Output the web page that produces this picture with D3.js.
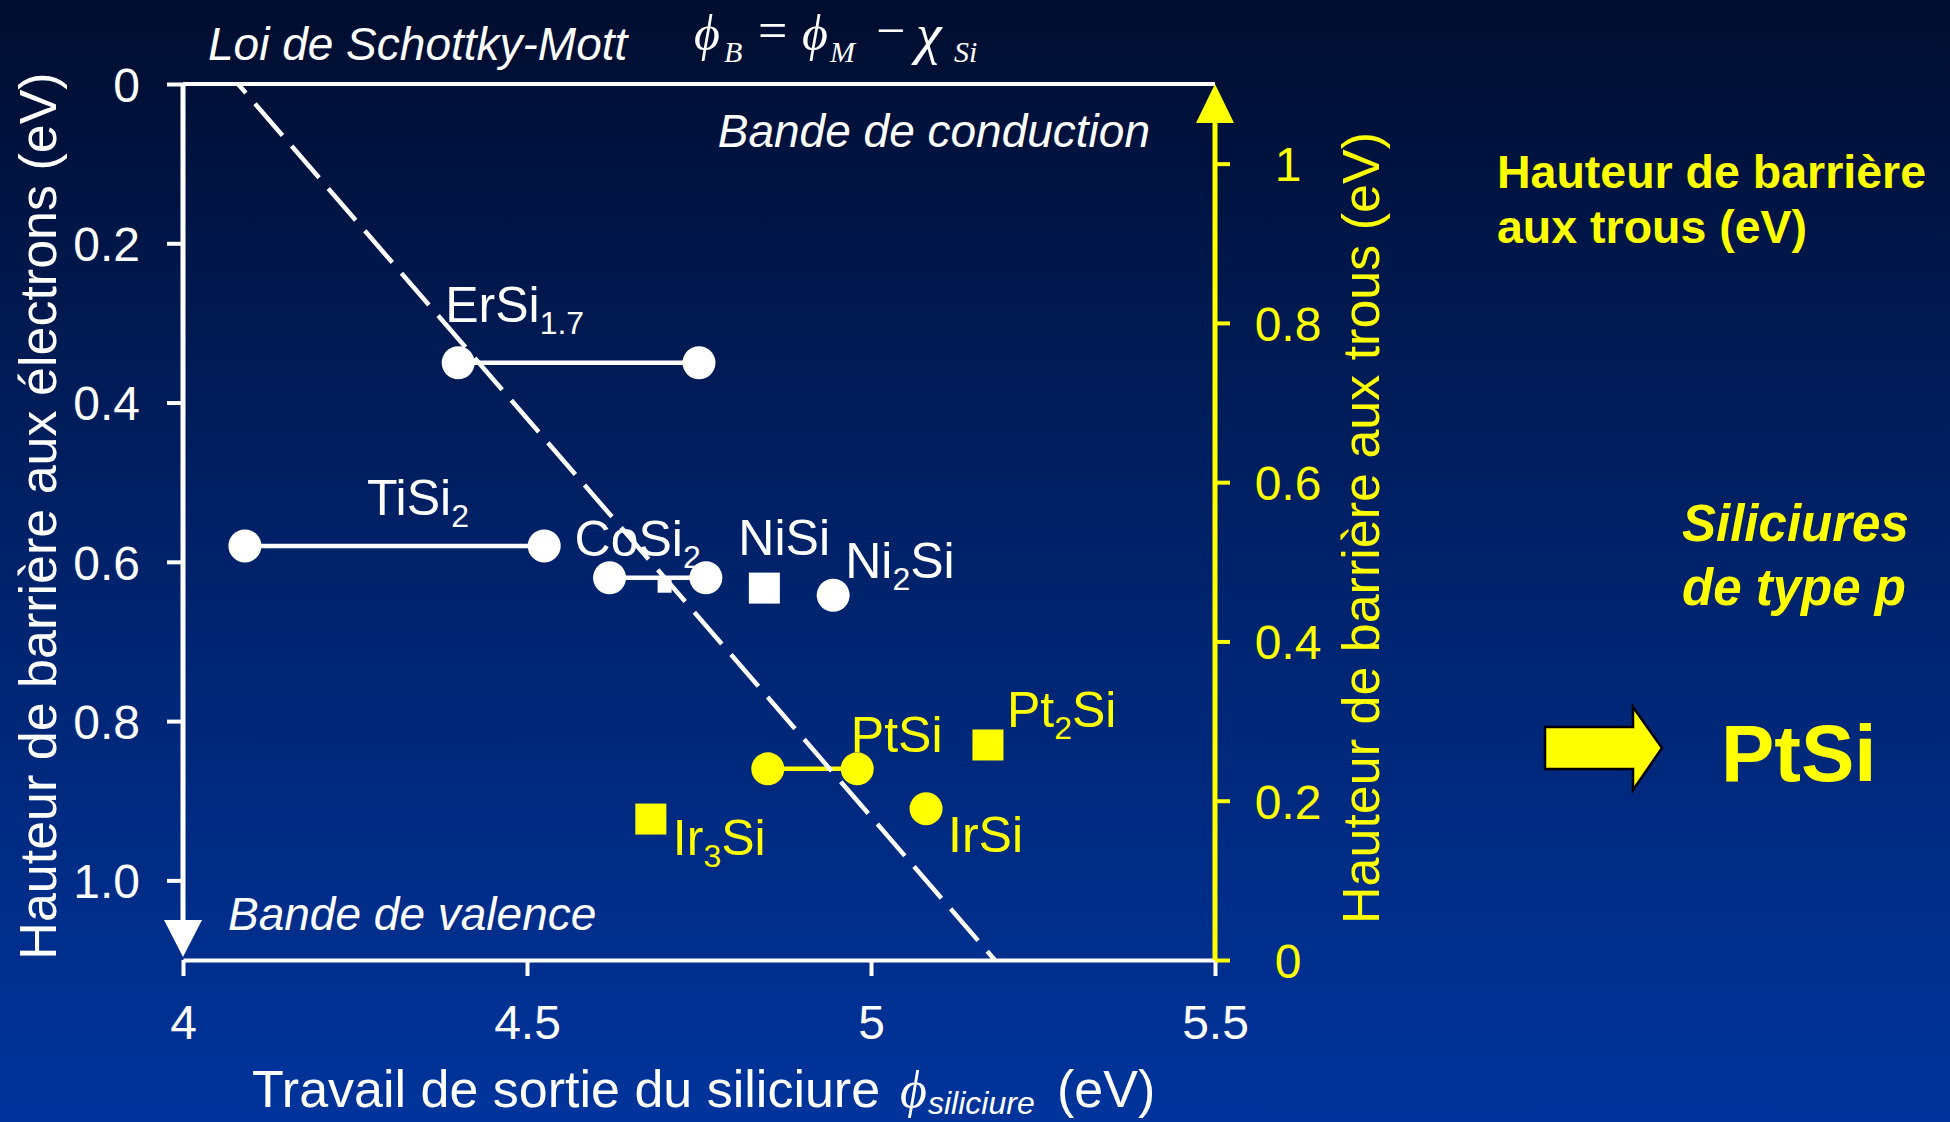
<!DOCTYPE html>
<html>
<head>
<meta charset="utf-8">
<script src="https://cdn.jsdelivr.net/npm/d3@7"></script>
<style>
html,body{margin:0;padding:0;background:#001a50;}
svg{display:block;}
text{font-family:"Liberation Sans",Arial,Helvetica,sans-serif;}
</style>
</head>
<body>
<svg id="chart" width="1950" height="1122"></svg>
<script>
// ---------- DATA ----------
const xTicks = [4, 4.5, 5, 5.5];
const xTickLabels = ["4", "4.5", "5", "5.5"];
const yElecTicks = [0, 0.2, 0.4, 0.6, 0.8, 1.0];
const yElecLabels = ["0", "0.2", "0.4", "0.6", "0.8", "1.0"];
const yHoleTicks = [0, 0.2, 0.4, 0.6, 0.8, 1.0];
const yHoleLabels = ["0", "0.2", "0.4", "0.6", "0.8", "1"];
const siGap = 1.1;

// Silicides with a range of work function (two circles joined by a line)
const rangeNames = ["ErSi1.7", "TiSi2", "CoSi2", "PtSi"];
const rangeLow = [4.40, 4.09, 4.62, 4.85];
const rangeHigh = [4.75, 4.525, 4.76, 4.98];
const rangeBarrier = [0.35, 0.58, 0.62, 0.86];
const rangeType = ["n", "n", "n", "p"];

// Single circles
const circleNames = ["Ni2Si", "IrSi"];
const circleX = [4.945, 5.08];
const circleBarrier = [0.642, 0.91];
const circleType = ["n", "p"];

// Squares
const squareNames = ["NiSi", "Pt2Si", "Ir3Si"];
const squareX = [4.845, 5.17, 4.68];
const squareBarrier = [0.633, 0.83, 0.923];
const squareType = ["n", "p", "p"];

// small extra square (CoSi2)
const smallSquareX = [4.70];
const smallSquareBarrier = [0.63];

// Schottky-Mott line endpoints (phi_B = phi_M - chi_Si)
const smX = [4.08, 5.18];
const smY = [0, 1.1];

// ---------- LAYOUT ----------
const W = 1950, H = 1122;
const svg = d3.select("#chart");
const defs = svg.append("defs");
const grad = defs.append("linearGradient").attr("id", "bg").attr("x1", 0).attr("y1", 0).attr("x2", 0).attr("y2", 1);
grad.append("stop").attr("offset", "0%").attr("stop-color", "#000d2e");
grad.append("stop").attr("offset", "50%").attr("stop-color", "#00226a");
grad.append("stop").attr("offset", "100%").attr("stop-color", "#00349c");
svg.append("rect").attr("width", W).attr("height", H).attr("fill", "url(#bg)");

const WHITE = "#ffffff", YELLOW = "#ffff00";
const colorOf = t => t === "p" ? YELLOW : WHITE;

const x = d3.scaleLinear().domain([4, 5.5]).range([183, 1215]);
const y = d3.scaleLinear().domain([0, siGap]).range([84, 960]);
const yH = d3.scaleLinear().domain([0, siGap]).range([960, 84]);

// label offsets (pixels, relative to the marker used as anchor)
const labelOffset = {
  "ErSi1.7": [-13, -41], "TiSi2": [122, -31], "CoSi2": [-35, -22], "PtSi": [83, -17],
  "Ni2Si": [12, -17], "IrSi": [22, 43], "NiSi": [-26, -33], "Pt2Si": [19, -18], "Ir3Si": [22, 36]
};

// ---------- AXES ----------
svg.append("line").attr("x1", x(4)).attr("x2", x(5.5)).attr("y1", y(0)).attr("y2", y(0))
  .attr("stroke", WHITE).attr("stroke-width", 4);

const gL = svg.append("g").attr("transform", `translate(${x(4)},0)`)
  .call(d3.axisLeft(y).tickValues(yElecTicks).tickFormat((d, i) => yElecLabels[i])
    .tickSize(16).tickSizeOuter(0).tickPadding(27));
gL.select(".domain").attr("stroke", WHITE).attr("stroke-width", 5).attr("d", `M0,${y(0)}V${y(siGap) - 10}`);
gL.selectAll(".tick line").attr("stroke", WHITE).attr("stroke-width", 4);
gL.selectAll(".tick text").attr("fill", WHITE).style("font-size", "48px").attr("dy", "0.36em")
  .style("font-family", '"Liberation Sans",Arial,sans-serif');

const gB = svg.append("g").attr("transform", `translate(0,${y(siGap)})`)
  .call(d3.axisBottom(x).tickValues(xTicks).tickFormat((d, i) => xTickLabels[i])
    .tickSize(16).tickSizeOuter(0).tickPadding(29));
gB.select(".domain").attr("stroke", WHITE).attr("stroke-width", 4);
gB.selectAll(".tick line").attr("stroke", WHITE).attr("stroke-width", 4);
gB.selectAll(".tick text").attr("fill", WHITE).style("font-size", "48px")
  .style("font-family", '"Liberation Sans",Arial,sans-serif');

const gR = svg.append("g").attr("transform", `translate(${x(5.5)},0)`)
  .call(d3.axisRight(yH).tickValues(yHoleTicks).tickFormat((d, i) => yHoleLabels[i])
    .tickSize(15).tickSizeOuter(0).tickPadding(40));
gR.select(".domain").attr("stroke", YELLOW).attr("stroke-width", 5).attr("d", `M0,${yH(0)}V${yH(siGap) + 10}`);
gR.selectAll(".tick line").attr("stroke", YELLOW).attr("stroke-width", 4);
gR.selectAll(".tick text").attr("fill", YELLOW).style("font-size", "48px").attr("text-anchor", "middle")
  .attr("x", 73).attr("dy", "0.36em")
  .style("font-family", '"Liberation Sans",Arial,sans-serif');

svg.append("path").attr("fill", WHITE)
  .attr("d", `M${x(4) - 19},${y(siGap) - 40}L${x(4) + 19},${y(siGap) - 40}L${x(4)},${y(siGap) - 3}Z`);
svg.append("path").attr("fill", YELLOW)
  .attr("d", `M${x(5.5) - 19},${yH(siGap) + 39}L${x(5.5) + 19},${yH(siGap) + 39}L${x(5.5)},${yH(siGap)}Z`);

// ---------- MARKS ----------
const plot = svg.append("g");

rangeNames.forEach((n, i) => {
  plot.append("line").attr("x1", x(rangeLow[i])).attr("x2", x(rangeHigh[i]))
    .attr("y1", y(rangeBarrier[i])).attr("y2", y(rangeBarrier[i]))
    .attr("stroke", colorOf(rangeType[i])).attr("stroke-width", 4.5);
});

plot.append("line").attr("x1", x(smX[0])).attr("y1", y(smY[0])).attr("x2", x(smX[1])).attr("y2", y(smY[1]))
  .attr("stroke", WHITE).attr("stroke-width", 4.5).attr("stroke-dasharray", "42,14").attr("stroke-dashoffset", 30);

rangeNames.forEach((n, i) => {
  [rangeLow[i], rangeHigh[i]].forEach(v => {
    plot.append("circle").attr("cx", x(v)).attr("cy", y(rangeBarrier[i])).attr("r", 16.5)
      .attr("fill", colorOf(rangeType[i]));
  });
});
circleNames.forEach((n, i) => {
  plot.append("circle").attr("cx", x(circleX[i])).attr("cy", y(circleBarrier[i])).attr("r", 16.5)
    .attr("fill", colorOf(circleType[i]));
});
squareNames.forEach((n, i) => {
  plot.append("rect").attr("x", x(squareX[i]) - 15.5).attr("y", y(squareBarrier[i]) - 15.5)
    .attr("width", 31).attr("height", 31).attr("fill", colorOf(squareType[i]));
});
smallSquareX.forEach((v, i) => {
  plot.append("rect").attr("x", x(v) - 7).attr("y", y(smallSquareBarrier[i]) - 7)
    .attr("width", 14).attr("height", 14).attr("fill", WHITE);
});

function chem(name, px, py, color) {
  const parts = name.split(/(\d+(?:\.\d+)?)/).filter(s => s.length);
  const t = plot.append("text").attr("x", px).attr("y", py).attr("fill", color).style("font-size", "50px");
  let sub = false;
  parts.forEach(p => {
    const isNum = /^\d/.test(p);
    const ts = t.append("tspan").text(p);
    if (isNum) { ts.attr("dy", 12).style("font-size", "32px"); sub = true; }
    else if (sub) { ts.attr("dy", -12); sub = false; }
  });
}
rangeNames.forEach((n, i) => {
  const o = labelOffset[n];
  chem(n, x(rangeLow[i]) + o[0], y(rangeBarrier[i]) + o[1], colorOf(rangeType[i]));
});
circleNames.forEach((n, i) => {
  const o = labelOffset[n];
  chem(n, x(circleX[i]) + o[0], y(circleBarrier[i]) + o[1], colorOf(circleType[i]));
});
squareNames.forEach((n, i) => {
  const o = labelOffset[n];
  chem(n, x(squareX[i]) + o[0], y(squareBarrier[i]) + o[1], colorOf(squareType[i]));
});

// ---------- TEXTS ----------
svg.append("text").attr("x", 208).attr("y", 60).attr("fill", WHITE)
  .style("font-size", "46px").style("font-style", "italic").text("Loi de Schottky-Mott");

// formula ϕB = ϕM − χSi
const f = svg.append("g").attr("fill", WHITE);
[["ϕ", 694, 50, 50, "italic"], ["B", 724, 62, 30, "italic"], ["=", 758, 48, 52, "normal"],
 ["ϕ", 802, 50, 50, "italic"], ["M", 830, 62, 30, "italic"], ["−", 876, 48, 52, "normal"],
 ["χ", 916, 53, 58, "italic"], ["Si", 954, 62, 30, "italic"]]
  .forEach(([s, px, py, fs, st]) => {
    f.append("text").attr("x", px).attr("y", py)
      .style("font-family", '"Liberation Serif","Times New Roman",serif')
      .style("font-size", fs + "px").style("font-style", st).text(s);
  });

svg.append("text").attr("x", 1150).attr("y", 147).attr("fill", WHITE).attr("text-anchor", "end")
  .style("font-size", "46px").style("font-style", "italic").text("Bande de conduction");
svg.append("text").attr("x", 228).attr("y", 930).attr("fill", WHITE)
  .style("font-size", "46px").style("font-style", "italic").text("Bande de valence");

svg.append("text").attr("transform", "translate(56,516) rotate(-90)").attr("text-anchor", "middle")
  .attr("fill", WHITE).style("font-size", "52px").text("Hauteur de barrière aux électrons (eV)");
svg.append("text").attr("transform", "translate(1379,528) rotate(-90)").attr("text-anchor", "middle")
  .attr("fill", YELLOW).style("font-size", "52px").text("Hauteur de barrière aux trous (eV)");

const xt = svg.append("g").attr("fill", WHITE);
xt.append("text").attr("x", 252).attr("y", 1107).style("font-size", "52px").text("Travail de sortie du siliciure");
xt.append("text").attr("x", 900).attr("y", 1107)
  .style("font-family", '"Liberation Serif","Times New Roman",serif').style("font-style", "italic")
  .style("font-size", "52px").text("ϕ");
xt.append("text").attr("x", 928).attr("y", 1114).style("font-size", "32px").style("font-style", "italic").text("siliciure");
xt.append("text").attr("x", 1057).attr("y", 1107).style("font-size", "52px").text("(eV)");

// right panel
svg.append("text").attr("x", 1497).attr("y", 188).attr("fill", YELLOW).style("font-size", "46.5px")
  .style("font-weight", "bold").text("Hauteur de barrière");
svg.append("text").attr("x", 1497).attr("y", 243).attr("fill", YELLOW).style("font-size", "46.5px")
  .style("font-weight", "bold").text("aux trous (eV)");
svg.append("text").attr("x", 1682).attr("y", 541).attr("fill", YELLOW).style("font-size", "51px")
  .style("font-weight", "bold").style("font-style", "italic").text("Siliciures");
svg.append("text").attr("x", 1682).attr("y", 605).attr("fill", YELLOW).style("font-size", "51px")
  .style("font-weight", "bold").style("font-style", "italic").text("de type p");

svg.append("path").attr("fill", YELLOW).attr("stroke", "#000").attr("stroke-width", 2.5).attr("stroke-linejoin", "miter")
  .attr("d", "M1545,727L1633,727L1633,707L1662,748L1633,790L1633,769L1545,769Z");
svg.append("text").attr("x", 1721).attr("y", 781).attr("fill", YELLOW).style("font-size", "80px")
  .style("font-weight", "bold").text("PtSi");
</script>
</body>
</html>
